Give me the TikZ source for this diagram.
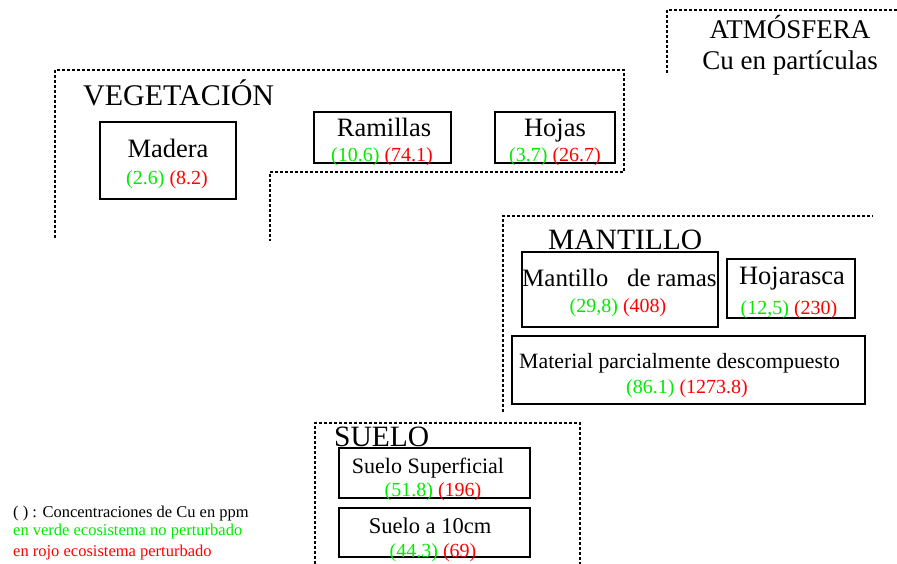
\documentclass[tikz,border=0pt]{standalone}
\usepackage{fontspec}
\setmainfont{Liberation Serif}
\definecolor{gcol}{RGB}{0,235,0}
\definecolor{rcol}{RGB}{255,0,0}
\newcommand{\gv}[1]{\textcolor{gcol}{#1}}
\newcommand{\rv}[1]{\textcolor{rcol}{#1}}
\tikzset{
  zone/.style={line width=1.3pt, dash pattern=on 3pt off 2pt},
  box/.style={draw, line width=1.3pt, inner sep=0pt},
  ttl/.style={inner sep=0pt, anchor=base, font=\fontsize{26.5}{26.5}\selectfont},
  sec/.style={inner sep=0pt, anchor=base west, font=\fontsize{29.5}{29.5}\selectfont},
  num/.style={inner sep=0pt, anchor=base, font=\fontsize{20}{20}\selectfont},
  leg/.style={inner sep=0pt, anchor=base west, font=\fontsize{16.5}{16.5}\selectfont},
}
\begin{document}
\begin{tikzpicture}[x=1pt,y=-1pt]
\useasboundingbox (0,0) rectangle (897,564);
% zones
\draw[zone] (55,238) -- (55,70) -- (624,70) -- (624,172) -- (270,172) -- (270,241);
\draw[zone] (503,412) -- (503,216) -- (873,216);
\draw[zone] (315,564) -- (315,423) -- (580,423) -- (580,564);
\draw[zone] (667,73) -- (667,10) -- (897,10);
% section titles
\node[sec, font=\fontsize{30}{30}\selectfont] (veg) at (83,106) {VEGETACIÓN};
\node[sec] (man) at (548,250) {MANTILLO};
\node[sec] (sue) at (334,446) {SUELO};
\node[inner sep=0pt, anchor=base, font=\fontsize{27}{27}\selectfont] (atm) at (790,39) {ATMÓSFERA};
\node[inner sep=0pt, anchor=base, font=\fontsize{27}{27}\selectfont] (cup) at (790,70) {Cu en partículas};
% boxes
\node[box, minimum width=136, minimum height=77] (madera) at (168,160.5) {};
\node[ttl] (maderat) at (168,158) {Madera};
\node[num] (maderan) at (167,185) {\gv{(2.6)} \rv{(8.2)}};
\node[box, minimum width=137, minimum height=51] (ramillas) at (382.5,137.5) {};
\node[ttl] (ramillast) at (384,137) {Ramillas};
\node[num] (ramillasn) at (382,162) {\gv{(10.6)} \rv{(74.1)}};
\node[box, minimum width=120, minimum height=51] (hojas) at (555,137.5) {};
\node[ttl] (hojast) at (555,137) {Hojas};
\node[num] (hojasn) at (555,162) {\gv{(3.7)} \rv{(26.7)}};
\node[box, minimum width=196, minimum height=75] (ramas) at (620,289.5) {};
\node[ttl, anchor=base west, font=\fontsize{25}{25}\selectfont] (ramast) at (522,287) {Mantillo\ \ \ de ramas};
\node[num] (ramasn) at (618,312) {\gv{(29,8)} \rv{(408)}};
\node[box, minimum width=128, minimum height=59] (hoja) at (791,288.5) {};
\node[ttl] (hojat) at (792,284) {Hojarasca};
\node[num] (hojan) at (789,314) {\gv{(12,5)} \rv{(230)}};
\node[box, minimum width=353, minimum height=68] (mat) at (688.5,370) {};
\node[ttl, anchor=base west, font=\fontsize{21.8}{21.8}\selectfont] (matt) at (519,368) {Material parcialmente descompuesto};
\node[num] (matn) at (687,393) {\gv{(86.1)} \rv{(1273.8)}};
\node[box, minimum width=191, minimum height=50] (sup) at (434.5,473) {};
\node[ttl, font=\fontsize{22}{22}\selectfont] (supt) at (428,473) {Suelo Superficial};
\node[num] (supn) at (433,496) {\gv{(51.8)} \rv{(196)}};
\node[box, minimum width=191, minimum height=49] (diez) at (434.5,532.5) {};
\node[ttl, font=\fontsize{22.5}{22.5}\selectfont] (diezt) at (430,533) {Suelo a 10cm};
\node[num] (diezn) at (433,557) {\gv{(44.3)} \rv{(69)}};
% legend
\node[leg] (leg1) at (13,517) {( ) : Concentraciones de Cu en ppm};
\node[leg, text=gcol] (leg2) at (13,535) {en verde ecosistema no perturbado};
\node[leg, text=rcol] (leg3) at (13,556) {en rojo ecosistema perturbado};
\end{tikzpicture}
\end{document}
